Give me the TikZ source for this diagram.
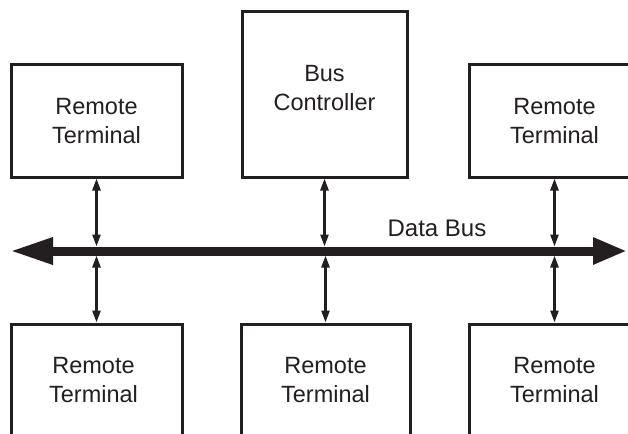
\documentclass[tikz,border=0pt]{standalone}
\usepackage{fontspec}
\setmainfont{Liberation Sans}
\usetikzlibrary{arrows.meta}
\definecolor{ink}{RGB}{35,31,32}

\begin{document}
\begin{tikzpicture}[x=1pt, y=-1pt, line join=miter,
    unit/.style={draw=ink, line width=3pt, fill=white, inner sep=0pt,
                 minimum width=171pt, minimum height=112pt},
    caption/.style={text=ink, align=center, inner sep=0pt,
                    font=\fontsize{23.5}{29}\selectfont},
    bus/.style={draw=ink, line width=9pt, {Triangle[length=43pt,width=25pt]}-{Triangle[length=34pt,width=25pt]}},
    tap/.style={draw=ink, line width=2.5pt, {Triangle[length=12pt,width=8pt]}-{Triangle[length=12pt,width=8pt]}}]

  \begin{scope}
  \clip (0,0) rectangle (628,433);

  %% ════ units above the bus ════
  \node[unit] (rtTL) at (96.5,121.0) {};
  \node[unit, minimum width=165pt, minimum height=165pt] (bc) at (324.5,94.5) {};
  \node[unit] (rtTR) at (554.5,121.0) {};

  %% ════ units below the bus ════
  \node[unit] (rtBL) at (96.5,380.0) {};
  \node[unit, minimum width=169pt] (rtBM) at (325.5,380.0) {};
  \node[unit] (rtBR) at (554.5,380.0) {};

  %% ════ texts ════
  \node[caption] at (rtTL) {Remote\\Terminal};
  \node[caption] at ([yshift=6pt]bc.center) {Bus\\Controller};
  \node[caption] at (rtTR) {Remote\\Terminal};
  \node[caption] at ([xshift=-3pt]rtBL.center) {Remote\\Terminal};
  \node[caption] at (rtBM) {Remote\\Terminal};
  \node[caption] at (rtBR) {Remote\\Terminal};

  %% ════ the bus ════
  \coordinate (busW) at (10,251);
  \coordinate (busE) at (627,251);
  \coordinate (busN) at (0,246.5);   % upper edge of the bus
  \coordinate (busS) at (0,255.5);   % lower edge of the bus
  \draw[bus] (busW) -- (busE);
  \node[caption, font=\fontsize{24}{29}\selectfont] (buslbl) at (437,228.5) {Data Bus};

  %% ════ taps ════
  \foreach \u in {rtTL,bc,rtTR}
    \draw[tap] (\u.south) -- (\u.south |- busN);
  \foreach \u in {rtBL,rtBM,rtBR}
    \draw[tap] (\u.north) -- (\u.north |- busS);
  \end{scope}

  % fix the canvas to the reference size
  \pgfresetboundingbox
  \path[use as bounding box] (0,0) rectangle (628,433);
\end{tikzpicture}
\end{document}
